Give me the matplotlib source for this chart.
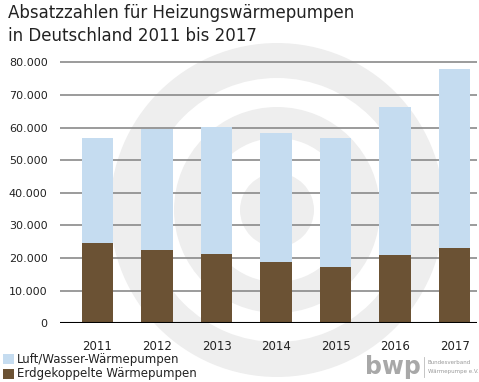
import numpy as np
import matplotlib
matplotlib.use("Agg")
import matplotlib.pyplot as plt
from matplotlib.patches import Wedge, Rectangle

# data
years = ['2011', '2012', '2013', '2014', '2015', '2016', '2017']
total = [56900, 59500, 60100, 58200, 56900, 66400, 78000]
erdgekoppelt = [24500, 22500, 21300, 18700, 17300, 20900, 23200]
luft_wasser = [t - e for t, e in zip(total, erdgekoppelt)]
y_ticks = [0, 10000, 20000, 30000, 40000, 50000, 60000, 70000, 80000]
y_tick_labels = ['0', '10.000', '20.000', '30.000', '40.000', '50.000',
                 '60.000', '70.000', '80.000']

col_blue = '#c5dcf0'
col_brown = '#6b5234'

W, H = 479, 382
fig = plt.figure(figsize=(W / 100, H / 100), dpi=100)
fig.patch.set_facecolor('white')

# watermark rings in the background (figure pixel coords)
bg = fig.add_axes([0, 0, 1, 1], zorder=0)
bg.set_xlim(0, W)
bg.set_ylim(H, 0)
bg.axis('off')
cx, cy = 277, 210
for r_out, r_in in [(167, 132), (103, 72), (37, 14)]:
    bg.add_patch(Wedge((cx, cy), r_out, 0, 360, width=r_out - r_in,
                       facecolor='#eeeeee', edgecolor='none'))

ax = fig.add_axes([60 / W, (H - 323.3) / H, (477 - 60) / W, (323.3 - 59.0) / H], zorder=1)
ax.patch.set_alpha(0)

x = np.arange(len(years))
ax.bar(x, erdgekoppelt, width=0.53, color=col_brown, zorder=3)
ax.bar(x, luft_wasser, width=0.53, bottom=erdgekoppelt, color=col_blue, zorder=3)

ax.set_xlim(-0.63, 6.375)
ax.set_ylim(0, 81000)
ax.set_yticks(y_ticks)
ax.set_yticklabels(y_tick_labels, fontsize=8, color='#222222')
ax.set_xticks(x)
ax.set_xticklabels(years, fontsize=8.5, color='#222222')
ax.tick_params(axis='both', length=0)
ax.tick_params(axis='y', pad=9)
ax.tick_params(axis='x', pad=12)
for yv in y_ticks[1:]:
    ax.axhline(yv, color='#8a8a8a', lw=1.2, zorder=1)
ax.axhline(0, color='black', lw=1.5, zorder=4)
for s in ax.spines.values():
    s.set_visible(False)

# title
fig.text(8 / W, 1 - 18 / H, 'Absatzzahlen für Heizungswärmepumpen', fontsize=12,
         color='#222222', va='baseline', ha='left')
fig.text(8 / W, 1 - 41 / H, 'in Deutschland 2011 bis 2017', fontsize=12,
         color='#222222', va='baseline', ha='left')

# legend
legend_items = [('Luft/Wasser-Wärmepumpen', col_blue, 359),
                ('Erdgekoppelte Wärmepumpen', col_brown, 374)]
for label, col, yy in legend_items:
    bg.add_patch(Rectangle((3, yy - 5), 11, 10, facecolor=col, edgecolor='none'))
    bg.text(17, yy, label, fontsize=8.5, color='#222222', va='center', ha='left')

# bwp logo
bg.text(365, 367, 'bwp', fontsize=17, fontweight='bold', color='#a8a8a8',
        va='center', ha='left')
bg.plot([424, 424], [357, 377], color='#bbbbbb', lw=0.6)
bg.text(428, 363, 'Bundesverband', fontsize=4, color='#999999', va='center', ha='left')
bg.text(428, 371, 'Wärmepumpe e.V.', fontsize=4, color='#999999', va='center', ha='left')

fig.savefig('out.png', dpi=100, facecolor='white')
